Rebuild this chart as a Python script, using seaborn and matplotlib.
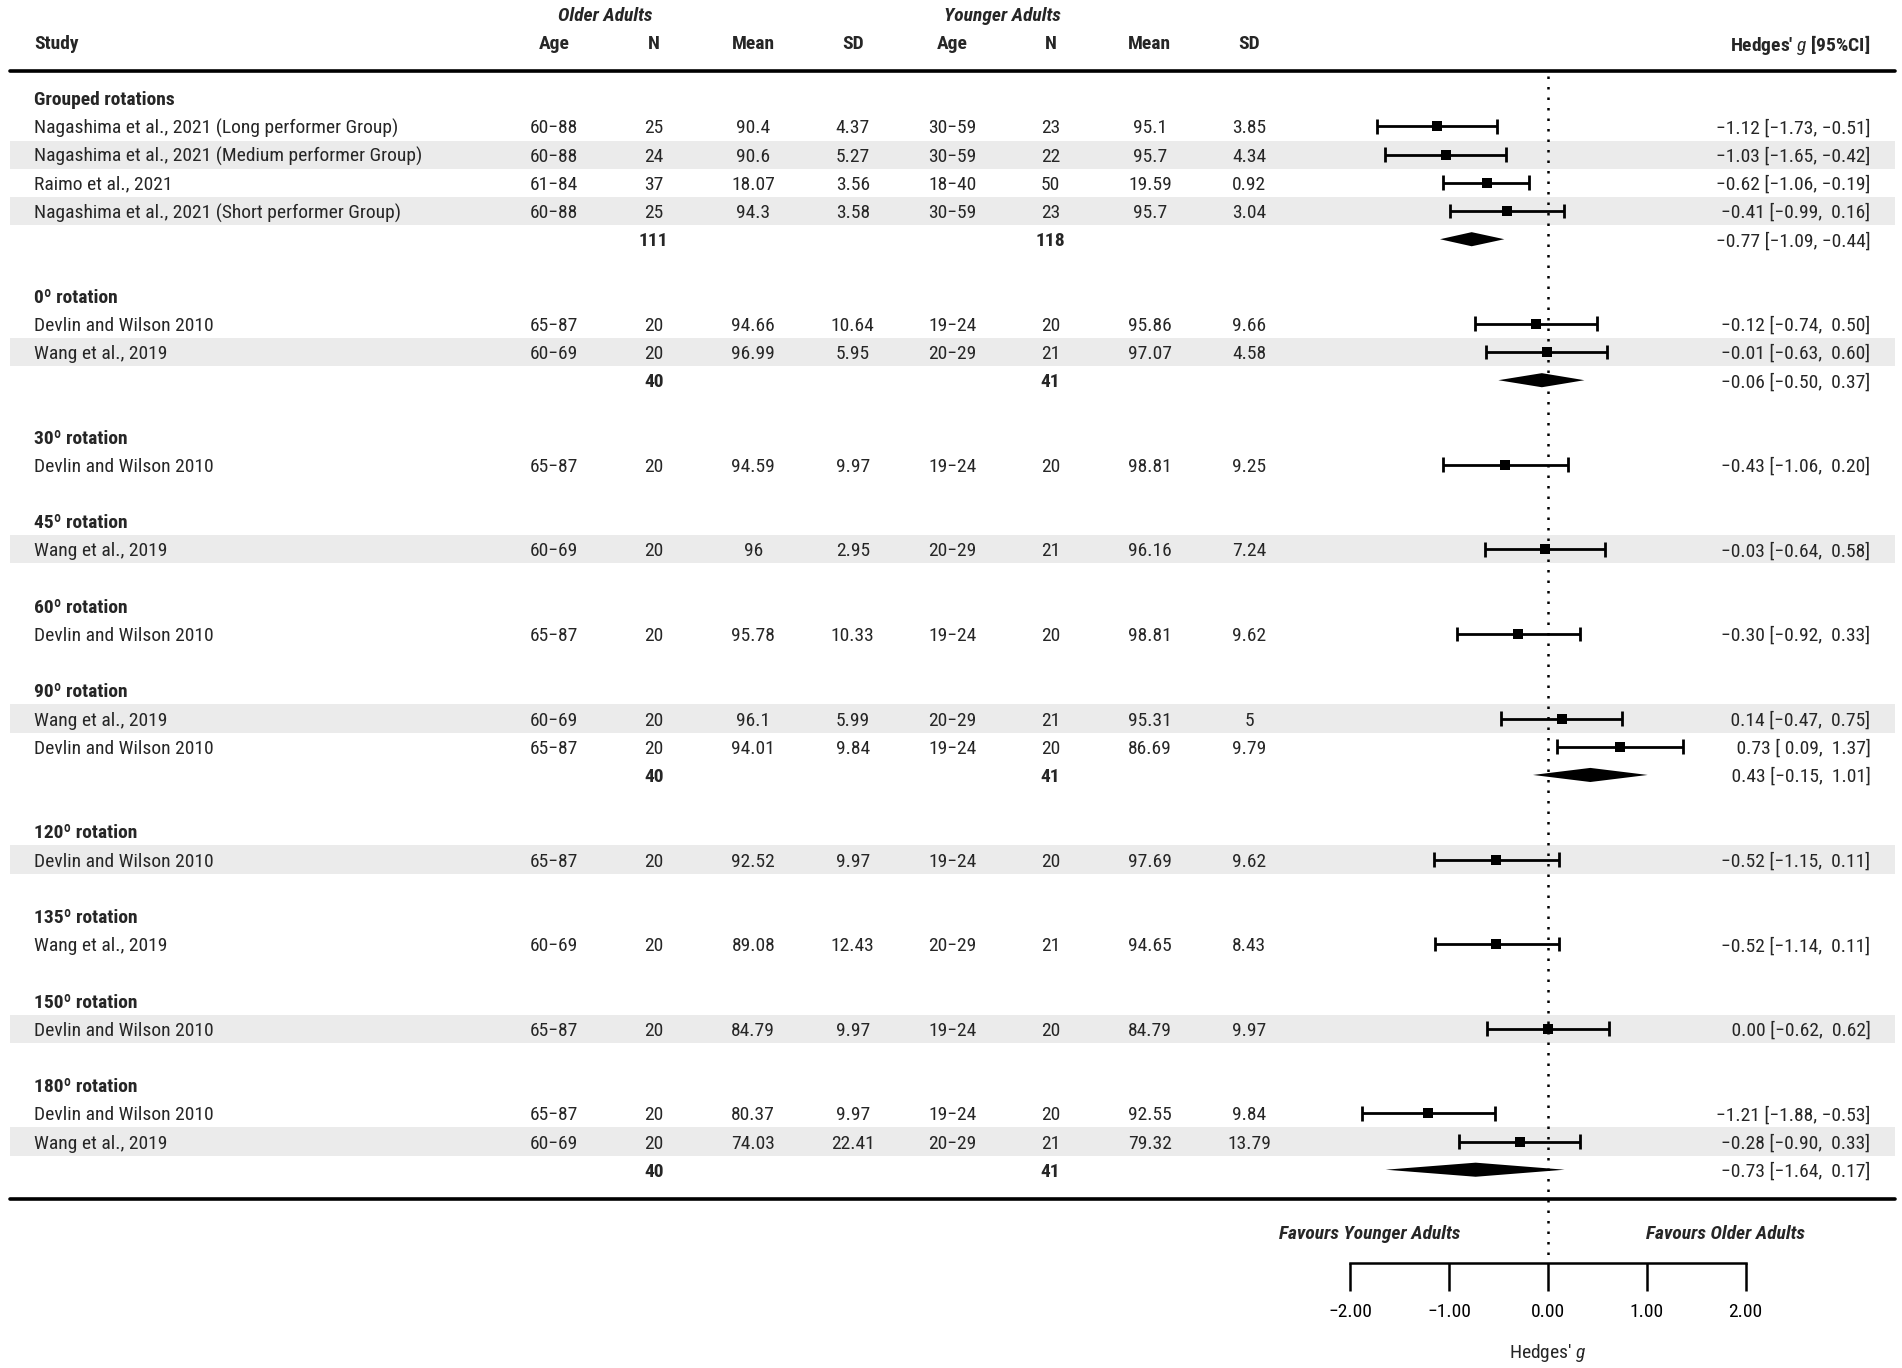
import matplotlib
matplotlib.use("Agg")
import matplotlib.pyplot as plt
import matplotlib.transforms as mtransforms
from matplotlib import font_manager
import seaborn as sns
import pandas as pd

# data
groups = ["Grouped rotations", "0º rotation", "30º rotation", "45º rotation",
          "60º rotation", "90º rotation", "120º rotation", "135º rotation",
          "150º rotation", "180º rotation"]

study = ["Nagashima et al., 2021 (Long performer Group)",
         "Nagashima et al., 2021 (Medium performer Group)",
         "Raimo et al., 2021",
         "Nagashima et al., 2021 (Short performer Group)",
         "Devlin and Wilson 2010", "Wang et al., 2019",
         "Devlin and Wilson 2010",
         "Wang et al., 2019",
         "Devlin and Wilson 2010",
         "Wang et al., 2019", "Devlin and Wilson 2010",
         "Devlin and Wilson 2010",
         "Wang et al., 2019",
         "Devlin and Wilson 2010",
         "Devlin and Wilson 2010", "Wang et al., 2019"]
study_group = [0, 0, 0, 0, 1, 1, 2, 3, 4, 5, 5, 6, 7, 8, 9, 9]

old_age = ["60−88", "60−88", "61−84", "60−88", "65−87", "60−69", "65−87", "60−69",
           "65−87", "60−69", "65−87", "65−87", "60−69", "65−87", "65−87", "60−69"]
old_n = [25, 24, 37, 25, 20, 20, 20, 20, 20, 20, 20, 20, 20, 20, 20, 20]
old_mean = [90.4, 90.6, 18.07, 94.3, 94.66, 96.99, 94.59, 96, 95.78, 96.1, 94.01,
            92.52, 89.08, 84.79, 80.37, 74.03]
old_sd = [4.37, 5.27, 3.56, 3.58, 10.64, 5.95, 9.97, 2.95, 10.33, 5.99, 9.84,
          9.97, 12.43, 9.97, 9.97, 22.41]
young_age = ["30−59", "30−59", "18−40", "30−59", "19−24", "20−29", "19−24", "20−29",
             "19−24", "20−29", "19−24", "19−24", "20−29", "19−24", "19−24", "20−29"]
young_n = [23, 22, 50, 23, 20, 21, 20, 21, 20, 21, 20, 20, 21, 20, 20, 21]
young_mean = [95.1, 95.7, 19.59, 95.7, 95.86, 97.07, 98.81, 96.16, 98.81, 95.31,
              86.69, 97.69, 94.65, 84.79, 92.55, 79.32]
young_sd = [3.85, 4.34, 0.92, 3.04, 9.66, 4.58, 9.25, 7.24, 9.62, 5, 9.79,
            9.62, 8.43, 9.97, 9.84, 13.79]
g_est = [-1.12, -1.03, -0.62, -0.41, -0.12, -0.01, -0.43, -0.03, -0.30, 0.14, 0.73,
         -0.52, -0.52, 0.00, -1.21, -0.28]
g_lo = [-1.73, -1.65, -1.06, -0.99, -0.74, -0.63, -1.06, -0.64, -0.92, -0.47, 0.09,
        -1.15, -1.14, -0.62, -1.88, -0.90]
g_hi = [-0.51, -0.42, -0.19, 0.16, 0.50, 0.60, 0.20, 0.58, 0.33, 0.75, 1.37,
        0.11, 0.11, 0.62, -0.53, 0.33]

summ_group = [0, 1, 5, 9]
summ_old_n = [111, 40, 40, 40]
summ_young_n = [118, 41, 41, 41]
summ_est = [-0.77, -0.06, 0.43, -0.73]
summ_lo = [-1.09, -0.50, -0.15, -1.64]
summ_hi = [-0.44, 0.37, 1.01, 0.17]

x_ticks = [-2, -1, 0, 1, 2]

# row layout
header_row = {}
study_row = [0] * len(study)
summ_row = {}
r = 0
for gi in range(len(groups)):
    header_row[gi] = r
    r += 1
    for i, sg in enumerate(study_group):
        if sg == gi:
            study_row[i] = r
            r += 1
    if gi in summ_group:
        summ_row[gi] = r
        r += 1
    r += 1

df = pd.DataFrame({"row": study_row, "est": g_est, "lo": g_lo, "hi": g_hi})

sns.set_theme(style="white")
names = {f.name for f in font_manager.fontManager.ttflist}
FONT, FS = "Liberation Sans", 13
for cand in ["Liberation Sans Narrow", "Arial Narrow", "Roboto Condensed"]:
    if cand in names:
        FONT, FS = cand, 14
        break
plt.rcParams["font.family"] = [FONT, "DejaVu Sans"]
plt.rcParams["mathtext.fontset"] = "custom"
plt.rcParams["mathtext.rm"] = FONT
plt.rcParams["mathtext.it"] = FONT + ":italic"
plt.rcParams["mathtext.bf"] = FONT + ":bold"

W, H = 1568.0, 1128.0  # reference layout units

fig = plt.figure(figsize=(19.02, 13.68), dpi=100)
ax = fig.add_axes([0, 0, 1, 1])
ax.set_facecolor("white")

zero = 1276 / W
unit = 81.5 / W
ax.set_xlim(-zero / unit, (1 - zero) / unit)
r_top = -81 / 23.25
r_bot = (H - 81) / 23.25
ax.set_ylim(r_bot, r_top)

tr = mtransforms.blended_transform_factory(ax.transAxes, ax.transData)
x_left, x_right = 8 / W, 1562 / W

# shading of alternate studies
for i, rr in enumerate(study_row):
    if i % 2 == 1:
        ax.axhspan(rr - 0.5, rr + 0.5, xmin=x_left, xmax=x_right,
                   color="#ebebeb", lw=0, zorder=0)

# rules
ax.axhline(-0.95, xmin=x_left, xmax=x_right, color="black", lw=2.6)
ax.axhline(39.05, xmin=x_left, xmax=x_right, color="black", lw=2.6)

# reference line
ax.vlines(0, -0.8, 41.3, colors="black", linestyles=(0, (1, 3.2)), lw=1.8, zorder=1)

# study CIs and points
ax.hlines(df["row"], df["lo"], df["hi"], colors="black", lw=2, zorder=2)
ax.vlines(df["lo"], df["row"] - 0.26, df["row"] + 0.26, colors="black", lw=2, zorder=2)
ax.vlines(df["hi"], df["row"] - 0.26, df["row"] + 0.26, colors="black", lw=2, zorder=2)
sns.scatterplot(data=df, x="est", y="row", marker="s", s=55, color="black",
                edgecolor="black", linewidth=0, legend=False, ax=ax, zorder=3)

# summary diamonds
for k, gi in enumerate(summ_group):
    rr = summ_row[gi]
    ax.fill([summ_lo[k], summ_est[k], summ_hi[k], summ_est[k]],
            [rr, rr - 0.25, rr, rr + 0.25], color="black", lw=0, zorder=3)

# columns
col_x = [457, 539, 621, 703, 785, 866, 948, 1030]
col_x = [c / W for c in col_x]
study_x = 28 / W
ci_x = 1542 / W


def fmt(v):
    return f"{v:5.2f}".replace("-", "−")


ax.text(499 / W, -3, "Older Adults", transform=tr, ha="center", va="center_baseline",
        fontsize=FS, fontweight="bold", style="italic")
ax.text(826 / W, -3, "Younger Adults", transform=tr, ha="center", va="center_baseline",
        fontsize=FS, fontweight="bold", style="italic")
ax.text(study_x, -2, "Study", transform=tr, ha="left", va="center_baseline",
        fontsize=FS, fontweight="bold")
for cx, lab in zip(col_x, ["Age", "N", "Mean", "SD", "Age", "N", "Mean", "SD"]):
    ax.text(cx, -2, lab, transform=tr, ha="center", va="center_baseline",
            fontsize=FS, fontweight="bold")
ax.text(ci_x, -2, "Hedges' $g$ [95%CI]", transform=tr, ha="right",
        va="center_baseline", fontsize=FS, fontweight="bold")

for gi, g in enumerate(groups):
    ax.text(study_x, header_row[gi], g, transform=tr, ha="left", va="center_baseline",
            fontsize=FS, fontweight="bold")

for i in range(len(study)):
    rr = study_row[i]
    ax.text(study_x, rr, study[i], transform=tr, ha="left", va="center_baseline", fontsize=FS)
    vals = [old_age[i], f"{old_n[i]}", f"{old_mean[i]:g}", f"{old_sd[i]:g}",
            young_age[i], f"{young_n[i]}", f"{young_mean[i]:g}", f"{young_sd[i]:g}"]
    for cx, v in zip(col_x, vals):
        ax.text(cx, rr, v, transform=tr, ha="center", va="center_baseline", fontsize=FS)
    ax.text(ci_x, rr, f"{fmt(g_est[i])} [{fmt(g_lo[i])}, {fmt(g_hi[i])}]",
            transform=tr, ha="right", va="center_baseline", fontsize=FS)

for k, gi in enumerate(summ_group):
    rr = summ_row[gi]
    ax.text(col_x[1], rr, f"{summ_old_n[k]}", transform=tr, ha="center",
            va="center_baseline", fontsize=FS, fontweight="bold")
    ax.text(col_x[5], rr, f"{summ_young_n[k]}", transform=tr, ha="center",
            va="center_baseline", fontsize=FS, fontweight="bold")
    ax.text(ci_x, rr, f"{fmt(summ_est[k])} [{fmt(summ_lo[k])}, {fmt(summ_hi[k])}]",
            transform=tr, ha="right", va="center_baseline", fontsize=FS)

# bottom axis
for side in ["top", "left", "right"]:
    ax.spines[side].set_visible(False)
ax.spines["bottom"].set_position(("data", 41.3))
ax.spines["bottom"].set_bounds(x_ticks[0], x_ticks[-1])
ax.spines["bottom"].set_linewidth(1.8)
ax.spines["bottom"].set_color("black")
ax.set_xticks(x_ticks)
ax.set_xticklabels([f"{t:.2f}".replace("-", "−") for t in x_ticks])
ax.set_yticks([])
ax.tick_params(axis="x", bottom=True, direction="out", length=20, width=1.8,
               color="black", pad=9, labelsize=FS, labelcolor="black")
ax.set_xlabel("")
ax.set_ylabel("")

ax.text(-1.8, 40.2, "Favours Younger Adults", ha="center", va="center_baseline",
        fontsize=FS, fontweight="bold", style="italic")
ax.text(1.8, 40.2, "Favours Older Adults", ha="center", va="center_baseline",
        fontsize=FS, fontweight="bold", style="italic")
ax.text(0, 44.4, "Hedges' $g$", ha="center", va="center_baseline", fontsize=FS)

fig.savefig("out.png", dpi=100, facecolor="white")
